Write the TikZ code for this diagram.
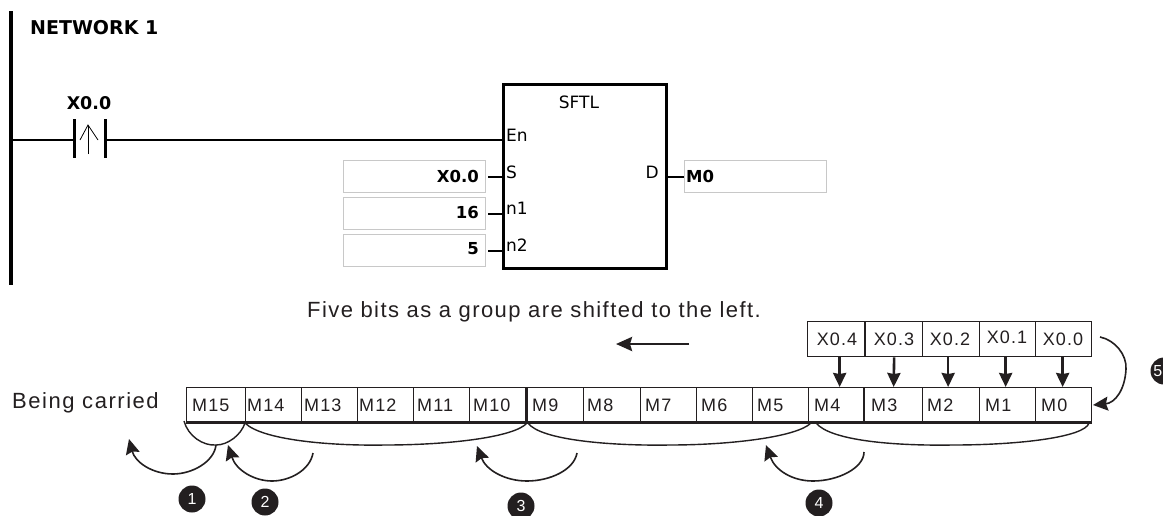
\documentclass[tikz,border=0pt]{standalone}
\usepackage{fontspec}
\setmainfont{Liberation Sans}
\newfontfamily\uifont{DejaVu Sans}
\newfontfamily\capfont[LetterSpace=6.5]{Liberation Sans}
\newfontfamily\carfont[LetterSpace=7]{Liberation Sans}
\newfontfamily\cellfont[LetterSpace=6]{Liberation Sans}
\usetikzlibrary{arrows.meta}
\definecolor{ink}{HTML}{231F20}
\definecolor{boxgray}{HTML}{C8C8C8}
\tikzset{
 x=1pt,y=-1pt,
 rung/.style={draw=black,line width=1.1pt},
 fld/.style={draw=boxgray,line width=1.2pt,fill=white,rectangle,minimum width=142pt,minimum height=32pt,inner sep=0pt,anchor=north west},
 fldtext/.style={font=\uifont\bfseries\fontsize{16.5}{16.5}\selectfont,inner sep=0pt,text=black},
 pin/.style={font=\uifont\fontsize{17}{17}\selectfont,inner sep=0pt,anchor=west,text=black},
 cell/.style={draw=ink,line width=1.3pt,rectangle,inner sep=0pt,anchor=north west,text=ink},
 celltext/.style={font=\cellfont\fontsize{18}{18}\selectfont,text=ink,inner sep=0pt},
 flow/.style={draw=ink,line width=1.6pt,-{Stealth[length=15pt,width=14pt,inset=2pt]}},
 brace/.style={draw=ink,line width=1.4pt},
 feed/.style={draw=ink,line width=2.6pt,-{Stealth[length=14pt,width=13pt,inset=1pt]}},
 badge/.style={circle,fill=ink,text=white,minimum size=27pt,inner sep=0pt,font=\fontsize{16}{16}\selectfont},
}
\begin{document}
\begin{tikzpicture}
\useasboundingbox (0,0) rectangle (1163,515);
\fill[white] (0,0) rectangle (1163,515);
% ladder
\coordinate (railtop) at (11,11);
\coordinate (railbot) at (11,285);
\draw[line width=3.5pt] (railtop) -- (railbot);
\node[font=\uifont\bfseries\fontsize{19}{19}\selectfont,anchor=west,inner sep=0pt] (net) at (30,28) {NETWORK 1};
\node[font=\uifont\bfseries\fontsize{17.5}{17.5}\selectfont,inner sep=0pt] (x00) at (89,103) {X0.0};
% contact
\coordinate (cl) at (74,140);
\coordinate (cr) at (105,140);
\draw[line width=3pt] (74,119) -- (74,158);
\draw[line width=3pt] (105,119) -- (105,158);
\draw[line width=1pt] (88,154) -- (88,126);
\draw[line width=.8pt] (80,140) -- (88,125) -- (98,140);
% fb
\node[draw=black,line width=3pt,rectangle,minimum width=163pt,minimum height=184pt,inner sep=0pt,anchor=north west] (fb) at (502,83) {};
\draw[rung] (railtop |- cl) -- (cl);
\draw[rung] (cr) -- (cr -| fb.west);
\node[pin,anchor=center] (title) at (579,102) {SFTL};
\node[pin] (en) at (506,135) {En};
\node[pin] (ps) at (506,172) {S};
\node[pin] (pn1) at (506,208) {n1};
\node[pin] (pn2) at (506,245) {n2};
\node[pin,anchor=east] (pd) at (659,172) {D};
\node[fld] (fs) at (343,160) {};
\node[fld] (fn1) at (343,197) {};
\node[fld] (fn2) at (343,234) {};
\node[fld] (fd) at (684,160) {};
\node[fldtext,anchor=east] (vs) at (479,176) {X0.0};
\node[fldtext,anchor=east] (vn1) at (479,212) {16};
\node[fldtext,anchor=east] (vn2) at (479,249) {5};
\node[fldtext,anchor=west] (vd) at (686,176) {M0};
\draw[rung] ([xshift=2pt]fs.east |- 0,177) -- (fb.west |- 0,177);
\draw[rung] ([xshift=2pt]fn1.east |- 0,214) -- (fb.west |- 0,214);
\draw[rung] ([xshift=2pt]fn2.east |- 0,251) -- (fb.west |- 0,251);
\draw[rung] (fb.east |- 0,177) -- (fd.west |- 0,177);
% caption
\node[font=\capfont\fontsize{22}{22}\selectfont,text=ink,inner sep=0pt,anchor=west] (cap) at (307,312) {Five bits as a group are shifted to the left.};
\coordinate (ar) at (689,344);
\coordinate (al) at (616,344);
\draw[draw=ink,line width=2.7pt,-{Stealth[length=16pt,width=14pt,inset=2pt]}] (ar) -- (al);
\node[font=\carfont\fontsize{22}{22}\selectfont,text=ink,inner sep=0pt,anchor=west] (carried) at (12,403) {Being carried};
% cells
\foreach \n/\a/\b/\t in {M15/186/245/192,M14/245/301/247,M13/301/357/304,M12/357/413/359,M11/413/469/417,M10/469/526/473,M9/526/583/532,M8/583/639.5/587,M7/639.5/695.5/645,M6/695.5/752/701,M5/752/808/757,M4/808/864/814,M3/864/922/871,M2/922/979/927,M1/979/1035/985,M0/1035/1091/1041}{
  \pgfmathsetmacro{\w}{\b-\a}
  \node[cell,minimum width=\w pt,minimum height=34pt] (\n) at (\a,387) {};
  \node[celltext,anchor=west] (t\n) at (\t,405) {\n};
}
\draw[draw=ink,line width=3pt] (M15.south west) -- (M0.south east);
\draw[draw=ink,line width=3pt] (M9.north west) -- (M9.south west);
\draw[draw=ink,line width=2.6pt] (M3.north west) -- (M3.south west);
% X boxes
\foreach \k/\n/\a/\b/\c/\y in {xa/X0.4/807/865/837/339,xb/X0.3/865/922/894/339,xc/X0.2/922/979/950/339,xd/X0.1/979/1035/1007/337,xe/X0.0/1035/1091/1063/339}{
  \pgfmathsetmacro{\w}{\b-\a}
  \node[cell,minimum width=\w pt,minimum height=35pt] (\k) at (\a,321) {};
  \node[celltext] (t\k) at (\c,\y) {\n};
}
\draw[draw=ink,line width=2.6pt] (xb.north west) -- (xb.south west);
\draw[feed] ([xshift=3pt]xa.south) -- ([xshift=3pt]M4.north);
\draw[feed] (xb.south) -- (M3.north);
\draw[feed] ([xshift=-3pt]xc.south) -- ([xshift=-3pt]M2.north);
\draw[feed] ([xshift=-2pt]xd.south) -- ([xshift=-2pt]M1.north);
\draw[feed] ([xshift=-1pt]xe.south) -- ([xshift=-1pt]M0.north);
% braces
\draw[brace] (184,421) .. controls (188,436) and (203,446) .. (216,445) .. controls (228,445) and (241,435) .. (245,423);
\draw[brace] (245,423) .. controls (262,440) and (330,446) .. (385,445) .. controls (450,445) and (515,437) .. (527,423);
\draw[brace] (528,423) .. controls (540,440) and (610,446) .. (670,445) .. controls (730,445) and (797,437) .. (811,423);
\draw[brace] (816,423) .. controls (830,440) and (890,446) .. (953,445) .. controls (1020,445) and (1085,437) .. (1089,423);
% curved arrows
\draw[flow] (216,445) .. controls (214,462) and (192,474) .. (173,474) .. controls (152,474) and (135,462) .. (129,439);
\draw[flow] (313,453) .. controls (310,470) and (290,481) .. (272,481) .. controls (254,481) and (236,470) .. (228,445);
\draw[flow] (577,453) .. controls (574,470) and (550,481) .. (527,481) .. controls (505,481) and (486,470) .. (477,446);
\draw[flow] (864,452) .. controls (864,468) and (838,481) .. (813,481) .. controls (792,481) and (775,470) .. (766,445);
\draw[flow] (1100,337) .. controls (1115,340) and (1127,355) .. (1126,369) .. controls (1125,390) and (1115,403) .. (1093,405);
% badges
\node[badge] (b1) at (192,499) {1};
\node[badge] (b2) at (265,502) {2};
\node[badge] (b3) at (521,506) {3};
\node[badge] (b4) at (819,503) {4};
\node[badge] (b5) at (1164,371) {};
\node[inner sep=0pt,text=white,font=\fontsize{16}{16}\selectfont,anchor=east] (t5) at (1162.5,371) {5};
\end{tikzpicture}
\end{document}
